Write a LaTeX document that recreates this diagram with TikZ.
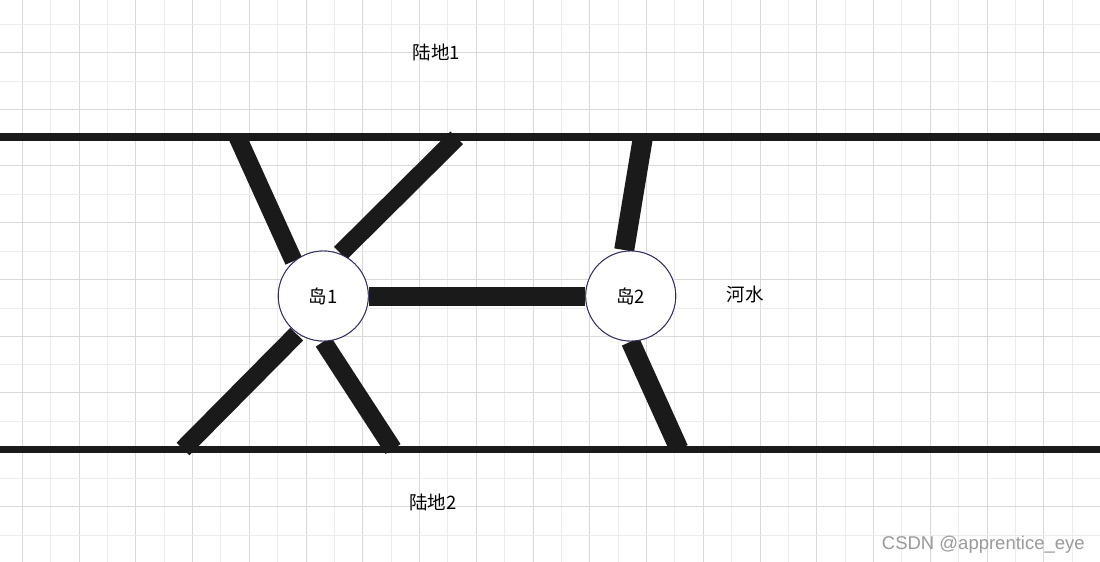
\documentclass[tikz,border=0pt]{standalone}
\usepackage{fontspec}
\newfontfamily\cjk{Noto Sans CJK SC}
\newfontfamily\wmfont{Liberation Sans}
\definecolor{gridmajor}{HTML}{D9D9D9}
\definecolor{gridminor}{HTML}{ECECEC}
\definecolor{barcol}{HTML}{1A1A1A}
\definecolor{isleline}{HTML}{2E2E5E}
\definecolor{wmgray}{HTML}{9A9A9A}
\tikzset{
  minorgrid/.style={draw=gridminor, line width=1pt},
  majorgrid/.style={draw=gridmajor, line width=1pt},
  riverbank/.style={draw=barcol, line width=8pt},
  bridge/.style={draw=barcol, line width=18pt, line cap=butt},
  island/.style={circle, draw=isleline, line width=0.9pt, fill=white, minimum size=90pt, inner sep=0pt, font=\cjk\fontsize{18.5}{21}\selectfont},
  label/.style={inner sep=0pt, font=\cjk\fontsize{18.5}{21}\selectfont},
  watermark/.style={inner sep=0pt, text=wmgray, font=\wmfont\fontsize{18.5}{22}\selectfont}
}
\begin{document}
\begin{tikzpicture}[x=1pt,y=-1pt]
\useasboundingbox (0,0) rectangle (1100,562);
\fill[white] (0,0) rectangle (1100,562);
% grid
\foreach \k in {-1,...,19} {
  \draw[minorgrid] ({50.675+56.75*\k},0) -- ++(0,562);
}
\foreach \k in {0,...,19} {
  \draw[majorgrid] ({22.3+56.75*\k},0) -- ++(0,562);
}
\foreach \k in {0,...,9} {
  \draw[minorgrid] (0,{24.3+56.75*\k}) -- ++(1100,0);
  \draw[majorgrid] (0,{52.3+56.75*\k}) -- ++(1100,0);
}
% islands
\node[island] (i1) at (323.3,296) {岛1};
\node[island] (i2) at (630.7,296) {岛2};
% bridge ends
\coordinate (b1a) at (237.5,137);   \coordinate (b1b) at (293.7,261);
\coordinate (b2a) at (456.7,137.8); \coordinate (b2b) at (340.3,253.3);
\coordinate (b4a) at (643,137);     \coordinate (b4b) at (624.2,250);
\coordinate (b5a) at (296.7,334.2); \coordinate (b5b) at (183,449);
\coordinate (b6a) at (323.3,341.7); \coordinate (b6b) at (393,449);
\coordinate (b7a) at (630.5,341.7); \coordinate (b7b) at (679,449);
\coordinate (tl) at (0,137);   \coordinate (tr) at (1100,137);
\coordinate (bl) at (0,449.5); \coordinate (br) at (1100,449.5);
% bridges
\draw[bridge] (b1a) -- (b1b);
\draw[bridge] (b2a) -- (b2b);
\draw[bridge, line width=19pt] (i1.east) -- (i2.west);
\draw[bridge, line width=20pt] (b4a) -- (b4b);
\draw[bridge] (b5a) -- (b5b);
\draw[bridge] (b6a) -- (b6b);
\draw[bridge, line width=19pt] (b7a) -- (b7b);
% river banks
\draw[riverbank] (tl) -- (tr);
\draw[riverbank, line width=7.5pt] (bl) -- (br);
% redraw islands on top
\node[island] at (i1) {岛1};
\node[island] at (i2) {岛2};
% labels
\node[label] (land1) at (436.5,52.5) {陆地1};
\node[label] (land2) at (433,502) {陆地2};
\node[label] (river) at (745,294) {河水};
\node[watermark, anchor=base west] (wm) at (881.7,549.3) {CSDN @apprentice\_eye};
\end{tikzpicture}
\end{document}
